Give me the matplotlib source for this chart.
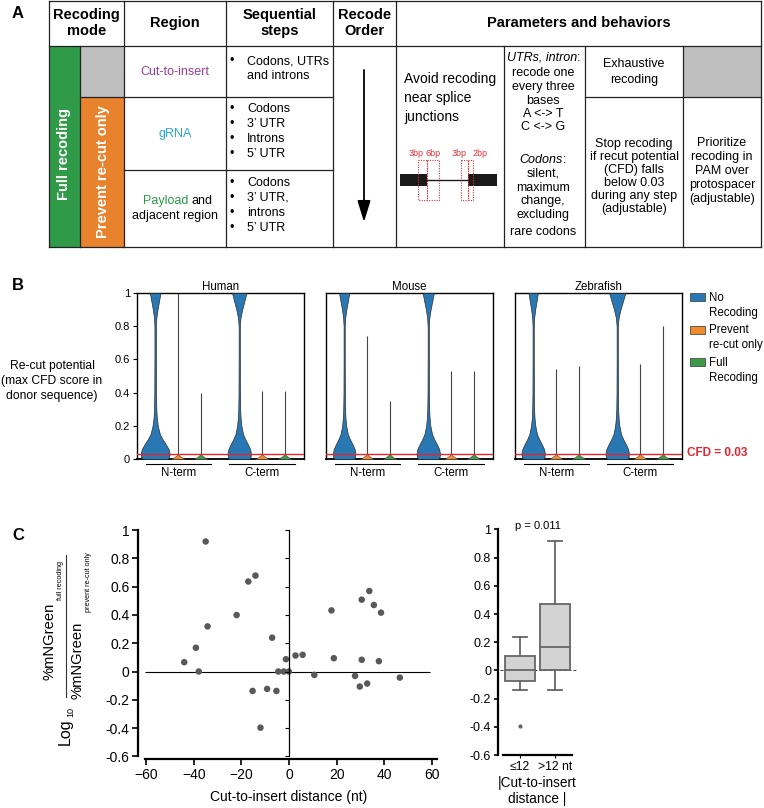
import matplotlib
matplotlib.use('Agg')
import matplotlib.pyplot as plt
from matplotlib.patches import Rectangle
import matplotlib.transforms as mtrans
import numpy as np

plt.rcParams['font.family'] = ['Liberation Sans', 'DejaVu Sans']

W, H = 764, 808

# ===== B: re-cut potential violins =====
species = ['Human', 'Mouse', 'Zebrafish']
terminus = ['N-term', 'C-term']
mode_labels = ['No\nRecoding', 'Prevent\nre-cut only', 'Full\nRecoding']
# how far the thin tails of the recoded groups reach (max CFD)
prevent_max = [[1.0, 0.41], [0.74, 0.53], [0.54, 0.57]]
full_max = [[0.40, 0.41], [0.35, 0.53], [0.56, 0.80]]
# no-recoding violins: density profile read off the shapes
cfd_levels = [0, 0.01, 0.03, 0.06, 0.09, 0.12, 0.15, 0.2, 0.25, 0.3, 0.4, 0.6, 0.8, 0.85, 0.9, 0.95, 1.0]
low_profile = [0.85, 0.95, 1.0, 0.92, 0.72, 0.5, 0.32, 0.18, 0.11, 0.08, 0.06, 0.05, 0.05, 0.05, 0.05, 0.05, 0.05]
high_profile = [0, 0, 0, 0, 0, 0, 0, 0, 0, 0, 0, 0, 0, 0.1, 0.35, 0.68, 1.0]
nr_bottom = [[0.64, 0.52], [0.50, 0.52], [0.52, 0.52]]
nr_top = [[0.20, 0.29], [0.20, 0.22], [0.18, 0.33]]
# recoded groups: almost everything sits at 0
small_levels = [0, 0.01, 0.02, 0.03]
small_profile = [0.28, 0.18, 0.07, 0.02]
cfd_cut = 0.03

# ===== C: mNGreen ratio vs cut-to-insert distance =====
dist_nt = [-44.0, -39.1, -37.9, -35.0, -34.2, -22.0, -17.1, -15.3, -14.1, -12.0, -9.2,
           -7.1, -5.3, -4.5, -2.2, -1.3, -0.1, 2.7, 5.7, 10.6, 17.8, 18.8, 27.7, 29.7,
           30.5, 30.5, 32.8, 33.7, 35.6, 37.7, 38.6, 46.5]
log_ratio = [0.066, 0.168, 0.0, 0.919, 0.319, 0.399, 0.636, -0.137, 0.678, -0.397, -0.123,
             0.239, -0.137, 0.0, 0.0, 0.087, 0.0, 0.113, 0.118, -0.024, 0.432, 0.094, -0.031, -0.106,
             0.508, 0.083, -0.085, 0.569, 0.470, 0.073, 0.416, -0.043]
box_labels = ['\u226412', '>12 nt']

blue, orange_v, green_v = '#2a78b3', '#f08a2c', '#3d9a48'
tab_green, tab_orange, tab_grey = '#2f9a47', '#e9822d', '#bfbfbf'

fig = plt.figure(figsize=(W / 100, H / 100), dpi=100)


def px_axes(l, t, r, b):
    return fig.add_axes([l / W, 1 - b / H, (r - l) / W, (b - t) / H])


# overlay in pixel coordinates for the table and loose text
ov = fig.add_axes([0, 0, 1, 1])
ov.set_xlim(0, W)
ov.set_ylim(H, 0)
ov.axis('off')

# ----- A: table -----
for x0, y0, x1, y1, c in [(49, 46, 80, 247, tab_green), (80, 46, 124, 97, tab_grey),
                          (80, 97, 124, 247, tab_orange), (683, 46, 761, 97, tab_grey)]:
    ov.add_patch(Rectangle((x0, y0), x1 - x0, y1 - y0, facecolor=c, edgecolor='none'))

lc = '#222222'
for x, y0, y1 in [(49, 1, 247), (124, 1, 247), (226, 1, 247), (333, 1, 247), (396, 1, 247),
                  (761, 1, 247), (80, 46, 247), (504, 46, 247), (585, 46, 247), (683, 46, 247)]:
    ov.plot([x, x], [y0, y1], color=lc, lw=0.9)
for y, x0, x1 in [(1, 49, 761), (46, 49, 761), (247, 49, 761), (97, 80, 333),
                  (170, 124, 333), (97, 585, 761)]:
    ov.plot([x0, x1], [y, y], color=lc, lw=0.9)

hkw = dict(ha='center', va='center', fontsize=10.5, fontweight='bold', linespacing=1.15)
ov.text(86.5, 23, 'Recoding\nmode', **hkw)
ov.text(175, 23, 'Region', **hkw)
ov.text(279.5, 23, 'Sequential\nsteps', **hkw)
ov.text(364.5, 23, 'Recode\nOrder', **hkw)
ov.text(578.5, 23, 'Parameters and behaviors', **hkw)

ov.text(64, 154, 'Full recoding', rotation=90, color='white', fontsize=10.5,
        fontweight='bold', ha='center', va='center')
ov.text(103, 172, 'Prevent re-cut only', rotation=90, color='white', fontsize=10.5,
        fontweight='bold', ha='center', va='center')

bkw = dict(fontsize=9, va='center')
ov.text(175, 72, 'Cut-to-insert', ha='center', color='#993d99', **bkw)
ov.text(175, 134, 'gRNA', ha='center', color='#29a6df', **bkw)
ov.text(143, 201, 'Payload', ha='left', color=tab_green, **bkw)
ov.text(192, 201, 'and', ha='left', **bkw)
ov.text(175, 216, 'adjacent region', ha='center', **bkw)

steps = [(61, 'Codons, UTRs', True), (76, 'and introns', False),
         (109, 'Codons', True), (124, '3\u2019 UTR', True), (139, 'Introns', True), (154, '5\u2019 UTR', True),
         (183, 'Codons', True), (198, '3\u2019 UTR,', True), (213, 'introns', True), (228, '5\u2019 UTR', True)]
for y, s, bullet in steps:
    if bullet:
        ov.text(232, y, '\u2022', ha='center', **bkw)
    ov.text(247, y, s, ha='left', **bkw)

ov.annotate('', xy=(364, 222), xytext=(364, 70),
            arrowprops=dict(arrowstyle='-|>,head_width=0.4,head_length=1.3', color='black',
                            lw=1.3, mutation_scale=10, shrinkA=0, shrinkB=0))

ov.text(404, 98, 'Avoid recoding\nnear splice\njunctions', ha='left', va='center',
        fontsize=10, linespacing=1.45)
# splice junction sketch
ov.add_patch(Rectangle((400, 174), 27, 12, facecolor='#1a1a1a', edgecolor='none'))
ov.add_patch(Rectangle((468, 174), 29, 12, facecolor='#1a1a1a', edgecolor='none'))
ov.plot([427, 468], [180, 180], color='#1a1a1a', lw=1)
red = '#e0313a'
for x0, x1 in [(418, 427), (427, 439), (461, 468), (468, 473)]:
    ov.add_patch(Rectangle((x0, 160), x1 - x0, 40, facecolor='none', edgecolor=red,
                           lw=0.8, linestyle=(0, (1, 1.2))))
for x, s in [(416, '3bp'), (433, '6bp'), (459, '3bp'), (480, '2bp')]:
    ov.text(x, 154, s, ha='center', va='center', fontsize=6.5, color=red)

t1 = ov.text(542, 58, 'UTRs, intron', ha='center', va='center', fontsize=9, style='italic')
ov.annotate(':', xy=(1, 0.5), xycoords=t1, ha='left', va='center', fontsize=9)
for y, s in [(73, 'recode one'), (87, 'every three'), (101, 'bases'), (114, 'A <-> T'),
             (127, 'C <-> G'), (174, 'silent,'), (188, 'maximum'), (201, 'change,'),
             (215, 'excluding'), (232, 'rare codons')]:
    ov.text(543, y, s, ha='center', **bkw)
t2 = ov.text(541, 160, 'Codons', ha='center', va='center', fontsize=9, style='italic')
ov.annotate(':', xy=(1, 0.5), xycoords=t2, ha='left', va='center', fontsize=9)

ov.text(634, 72, 'Exhaustive\nrecoding', ha='center', va='center', fontsize=9, linespacing=1.35)
ov.text(634, 176.5, 'Stop recoding\nif recut potential\n(CFD) falls\nbelow 0.03\nduring any step\n(adjustable)',
        ha='center', va='center', fontsize=9, linespacing=1.1)
ov.text(722, 171, 'Prioritize\nrecoding in\nPAM over\nprotospacer\n(adjustable)',
        ha='center', va='center', fontsize=9, linespacing=1.2)

for y, s in [(14, 'A'), (285, 'B'), (535, 'C')]:
    ov.text(18, y, s, fontsize=12, fontweight='bold', ha='center', va='center')

# ----- B: violins -----
ov.text(52, 381, 'Re-cut potential\n(max CFD score in\ndonor sequence)', ha='center',
        va='center', fontsize=8.7, linespacing=1.3)

lefts = [137, 326, 515]
for i, sp in enumerate(species):
    ax = px_axes(lefts[i], 293, lefts[i] + 167, 459)
    trans = mtrans.blended_transform_factory(ax.transData, ax.transAxes)
    for t in range(2):
        base = 1 + 3.7 * t
        w = nr_bottom[i][t] * np.array(low_profile) + nr_top[i][t] * np.array(high_profile)
        ax.fill_betweenx(cfd_levels, base - w, base + w, facecolor=blue,
                         edgecolor='#2b2b2b', lw=0.5, zorder=3)
        for k, (tail, col) in enumerate([(prevent_max[i][t], orange_v), (full_max[i][t], green_v)]):
            xk = base + 1 + k
            ax.vlines(xk, 0, tail, color='#444444', lw=0.8, zorder=2)
            ws = np.array(small_profile)
            ax.fill_betweenx(small_levels, xk - ws, xk + ws, facecolor=col,
                             edgecolor='#444444', lw=0.4, zorder=3)
        lo, hi = (0.6, 3.45) if t == 0 else (4.25, 7.15)
        ax.plot([lo, hi], [-0.03, -0.03], transform=trans, clip_on=False, color='black', lw=0.8)
        ax.text((lo + hi) / 2, -0.085, terminus[t], transform=trans, ha='center',
                va='center', fontsize=8.3)
    ax.axhline(cfd_cut, color='#e3262d', lw=1, zorder=5)
    ax.set_xlim(0.2, 7.55)
    ax.set_ylim(0, 1)
    ax.set_xticks([])
    for s in ax.spines.values():
        s.set_linewidth(1.0)
    ax.spines['bottom'].set_linewidth(1.3)
    ax.set_title(sp, fontsize=8.3, pad=1.5)
    if i == 0:
        ax.set_yticks([0, 0.2, 0.4, 0.6, 0.8, 1.0])
        ax.set_yticklabels(['0', '0.2', '0.4', '0.6', '0.8', '1'])
        ax.tick_params(axis='y', labelsize=8, length=3, width=0.8, pad=2)
    else:
        ax.set_yticks([])

ov.text(687, 453, 'CFD = 0.03', ha='left', va='center', fontsize=8.5, fontweight='bold', color='#e3262d')
for (y0, y1, ytxt), col, lab in zip([(293, 301, 297), (326, 334, 329), (358, 366, 362)],
                                    [blue, orange_v, green_v], mode_labels):
    ov.add_patch(Rectangle((690, y0), 15, y1 - y0, facecolor=col, edgecolor='#333333', lw=0.5))
    ov.text(709, ytxt - 5, lab, ha='left', va='top', fontsize=8.3, linespacing=1.3)

# ----- C: scatter -----
ax = px_axes(138, 528.6, 437, 759.4)
ax.scatter(dist_nt, log_ratio, s=22, color='#595959', edgecolors='none', zorder=4)
ax.hlines(0, -60.5, 59, color='black', lw=0.8)
ax.set_xlim(-63.4, 62.1)
ax.set_ylim(-0.621, 1.01)
yt = [-0.6, -0.4, -0.2, 0, 0.2, 0.4, 0.6, 0.8, 1.0]
ylab = ['-0.6', '-0.4', '-0.2', '0', '0.2', '0.4', '0.6', '0.8', '1']
ax.set_yticks(yt)
ax.set_yticklabels(ylab)
ax.set_xticks([-60, -40, -20, 0, 20, 40, 60])
ax.tick_params(labelsize=10, length=4, width=1.2, pad=2)
for s in ['top', 'right']:
    ax.spines[s].set_visible(False)
ax.spines['left'].set_bounds(-0.6, 1)
ax.spines['bottom'].set_bounds(-60.5, 62)
ax.spines['left'].set_linewidth(1.6)
ax.spines['bottom'].set_linewidth(1.6)
ax.patch.set_alpha(0)

tw = ax.twinx()
tw.set_ylim(ax.get_ylim())
for s in ['top', 'right', 'bottom']:
    tw.spines[s].set_visible(False)
tw.spines['left'].set_position(('data', 0))
tw.spines['left'].set_bounds(-0.6, 1)
tw.spines['left'].set_linewidth(0.9)
tw.yaxis.set_ticks_position('left')
tw.set_yticks(yt)
tw.set_yticklabels([])
tw.tick_params(axis='y', direction='out', length=3, width=0.8)

ov.text(289, 797, 'Cut-to-insert distance (nt)', ha='center', va='center', fontsize=10)

# y label: Log10 of the ratio
ov.text(65, 731.5, 'Log', rotation=90, ha='center', va='center', fontsize=11.5)
ov.text(71, 712, '10', rotation=90, ha='center', va='center', fontsize=6.5)
ov.plot([65.7, 65.7], [555, 697], color='#333333', lw=0.8)
ov.text(50, 641.5, '%mNGreen', rotation=90, ha='center', va='center', fontsize=10.6)
ov.text(61, 580, 'full recoding', rotation=90, ha='center', va='center', fontsize=5.2)
ov.text(78, 660, '%mNGreen', rotation=90, ha='center', va='center', fontsize=10.6)
ov.text(89, 582.5, 'prevent re-cut only', rotation=90, ha='center', va='center', fontsize=5.2)

# ----- C: box plot -----
near = [r for d, r in zip(dist_nt, log_ratio) if abs(d) <= 12]
far = [r for d, r in zip(dist_nt, log_ratio) if abs(d) > 12]
axb = px_axes(498, 528, 580, 755)
box_col = '#666666'
axb.hlines(0, 0.43, 2.63, colors='#333333', lw=0.7, linestyles=(0, (3, 2)), zorder=1)
axb.boxplot([near, far], positions=[1, 2], widths=0.83, patch_artist=True,
            boxprops=dict(facecolor='#d3d3d3', edgecolor=box_col, lw=1.3),
            medianprops=dict(color=box_col, lw=1.3),
            whiskerprops=dict(color=box_col, lw=1.3),
            capprops=dict(color=box_col, lw=1.3), capwidths=0.4,
            flierprops=dict(marker='o', markersize=3, markerfacecolor=box_col, markeredgecolor='none'),
            zorder=3)
axb.set_xlim(0.371, 2.714)
axb.set_ylim(-0.6, 1.01)
axb.set_yticks(yt)
axb.set_yticklabels(ylab)
axb.set_xticks([1, 2])
axb.set_xticklabels(box_labels)
axb.tick_params(labelsize=9, length=3, width=1.2, pad=2)
axb.tick_params(axis='x', labelsize=8.8, length=2, width=0.8)
for s in ['top', 'right']:
    axb.spines[s].set_visible(False)
axb.spines['left'].set_bounds(-0.6, 1)
axb.spines['bottom'].set_bounds(0.514, 2.486)
axb.spines['left'].set_linewidth(1.6)
axb.spines['bottom'].set_linewidth(1.6)
axb.patch.set_alpha(0)

ov.text(515, 526, 'p = 0.011', ha='left', va='center', fontsize=8)
ov.text(537, 791, '|Cut-to-insert\ndistance |', ha='center', va='center', fontsize=9.8, linespacing=1.2)

fig.savefig('out.png', dpi=100)
